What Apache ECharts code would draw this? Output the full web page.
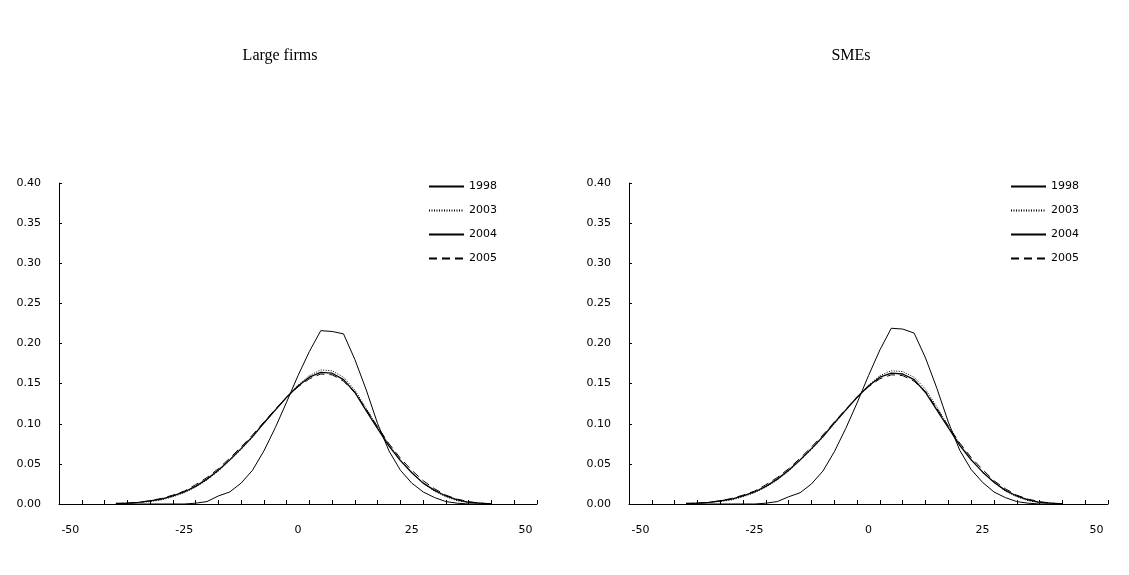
<!DOCTYPE html>
<html lang="en">

<head>
    <meta charset="UTF-8">
    <title>Large firms / SMEs</title>
    <style>
        html, body { margin: 0; padding: 0; background: #fff; }
        #app { width: 1129px; height: 575px; }
    </style>
</head>

<body>
    <div id="app"></div>
</body>
<script src="https://cdn.jsdelivr.net/npm/echarts@6/dist/echarts.min.js"></script>
<script>
    // x bins (every 2.5), from -40 to 42.5
    var xBins = [-40, -37.5, -35, -32.5, -30, -27.5, -25, -22.5, -20, -17.5, -15, -12.5, -10, -7.5, -5, -2.5,
        0, 2.5, 5, 7.5, 10, 12.5, 15, 17.5, 20, 22.5, 25, 27.5, 30, 32.5, 35, 37.5, 40, 42.5];

    var yearNames = ['1998', '2003', '2004', '2005'];
    var xLabels = [-50, -25, 0, 25, 50];

    // Large firms
    var large1998 = [0, 0, 0, 0, 0, 0, 0, 0.001, 0.003, 0.010, 0.015, 0.026, 0.042, 0.066, 0.095, 0.127,
        0.160, 0.190, 0.216, 0.215, 0.212, 0.180, 0.142, 0.100, 0.066, 0.042, 0.026, 0.015, 0.008, 0.003, 0.001, 0, 0, 0];
    var large2003 = [0, 0.001, 0.002, 0.003, 0.005, 0.009, 0.014, 0.021, 0.030, 0.041, 0.054, 0.068, 0.083, 0.100, 0.117, 0.133,
        0.148, 0.160, 0.167, 0.166, 0.158, 0.142, 0.119, 0.096, 0.074, 0.055, 0.039, 0.026, 0.016, 0.009, 0.004, 0.002, 0.001, 0];
    var large2004 = [0, 0.001, 0.002, 0.004, 0.006, 0.010, 0.015, 0.022, 0.031, 0.042, 0.055, 0.069, 0.084, 0.101, 0.117, 0.133,
        0.147, 0.158, 0.164, 0.163, 0.155, 0.139, 0.116, 0.094, 0.072, 0.054, 0.039, 0.026, 0.017, 0.010, 0.005, 0.002, 0.001, 0];
    var large2005 = [0.001, 0.001, 0.002, 0.004, 0.007, 0.011, 0.016, 0.024, 0.033, 0.044, 0.057, 0.071, 0.086, 0.102, 0.118, 0.133,
        0.146, 0.156, 0.162, 0.161, 0.153, 0.139, 0.118, 0.096, 0.075, 0.057, 0.042, 0.029, 0.019, 0.011, 0.006, 0.003, 0.001, 0];

    // SMEs
    var sme1998 = [0, 0, 0, 0, 0, 0, 0, 0.001, 0.003, 0.009, 0.014, 0.025, 0.041, 0.065, 0.094, 0.126,
        0.160, 0.192, 0.219, 0.218, 0.213, 0.182, 0.144, 0.102, 0.067, 0.043, 0.027, 0.015, 0.008, 0.003, 0.001, 0, 0, 0];
    var sme2003 = [0, 0.001, 0.002, 0.003, 0.005, 0.009, 0.014, 0.021, 0.030, 0.041, 0.054, 0.068, 0.083, 0.100, 0.117, 0.133,
        0.148, 0.160, 0.166, 0.165, 0.158, 0.143, 0.121, 0.097, 0.075, 0.056, 0.040, 0.027, 0.016, 0.009, 0.004, 0.002, 0.001, 0];
    var sme2004 = [0, 0.001, 0.002, 0.004, 0.006, 0.010, 0.015, 0.022, 0.031, 0.042, 0.055, 0.069, 0.084, 0.101, 0.117, 0.133,
        0.147, 0.158, 0.163, 0.162, 0.155, 0.139, 0.117, 0.095, 0.073, 0.055, 0.040, 0.027, 0.017, 0.010, 0.005, 0.002, 0.001, 0];
    var sme2005 = [0.001, 0.001, 0.002, 0.004, 0.007, 0.011, 0.016, 0.024, 0.033, 0.044, 0.057, 0.071, 0.086, 0.102, 0.118, 0.133,
        0.146, 0.156, 0.161, 0.160, 0.153, 0.140, 0.119, 0.097, 0.076, 0.058, 0.043, 0.029, 0.019, 0.011, 0.006, 0.003, 0.001, 0];

    var tickValues = [];
    for (var t = -52.5; t <= 52.5; t += 5) tickValues.push(t);

    function pairs(ys) {
        return xBins.map(function (x, i) { return [x, ys[i]]; });
    }

    var lineStyles = {
        '1998': { width: 1, type: 'solid' },
        '2003': { width: 1, type: [1, 1.5] },
        '2004': { width: 1.3, type: 'solid' },
        '2005': { width: 1, type: [8, 5] }
    };

    function makeSeries(idx, data) {
        return yearNames.map(function (name, k) {
            return {
                name: name,
                type: 'line',
                xAxisIndex: idx,
                yAxisIndex: idx,
                symbol: 'none',
                data: pairs(data[k]),
                lineStyle: { color: '#000', width: lineStyles[name].width, type: lineStyles[name].type },
                itemStyle: { color: '#000' }
            };
        });
    }

    var labelFont = { color: '#000', fontSize: 11, fontFamily: 'DejaVu Sans' };

    function xAxisFor(idx) {
        return {
            type: 'value',
            gridIndex: idx,
            min: -52.5,
            max: 52.5,
            axisLine: { onZero: false, lineStyle: { color: '#000', width: 1 } },
            axisTick: { show: true, inside: true, length: 4, customValues: tickValues, lineStyle: { color: '#000' } },
            axisLabel: Object.assign({ customValues: xLabels, margin: 21 }, labelFont),
            splitLine: { show: false }
        };
    }

    function yAxisFor(idx) {
        return {
            type: 'value',
            gridIndex: idx,
            min: 0,
            max: 0.4,
            interval: 0.05,
            axisLine: { show: true, onZero: false, lineStyle: { color: '#000', width: 1 } },
            axisTick: { show: true, inside: true, length: 3, lineStyle: { color: '#000' } },
            axisLabel: Object.assign({ margin: 18, formatter: function (v) { return v.toFixed(2); } }, labelFont),
            splitLine: { show: false }
        };
    }

    function legendFor(left) {
        return {
            orient: 'vertical',
            left: left,
            top: 181,
            padding: 0,
            itemWidth: 35,
            itemHeight: 12,
            itemGap: 13,
            itemStyle: { opacity: 0 },
            textStyle: { color: '#000', fontSize: 11, fontFamily: 'DejaVu Sans' },
            data: yearNames
        };
    }

    var chart = echarts.init(document.getElementById('app'));
    var option = {
        animation: false,
        backgroundColor: '#fff',
        title: [{
            text: 'Large firms',
            left: 275,
            top: 43,
            textAlign: 'center',
            textStyle: { fontFamily: 'Liberation Serif', fontSize: 16, fontWeight: 'normal', color: '#000' }
        }, {
            text: 'SMEs',
            left: 846,
            top: 43,
            textAlign: 'center',
            textStyle: { fontFamily: 'Liberation Serif', fontSize: 16, fontWeight: 'normal', color: '#000' }
        }],
        legend: [legendFor(428), legendFor(1010)],
        grid: [
            { left: 59, top: 183, width: 478, height: 321 },
            { left: 629, top: 183, width: 479, height: 321 }
        ],
        xAxis: [xAxisFor(0), xAxisFor(1)],
        yAxis: [yAxisFor(0), yAxisFor(1)],
        series: makeSeries(0, [large1998, large2003, large2004, large2005])
            .concat(makeSeries(1, [sme1998, sme2003, sme2004, sme2005]))
    };
    chart.setOption(option);
</script>

</html>
